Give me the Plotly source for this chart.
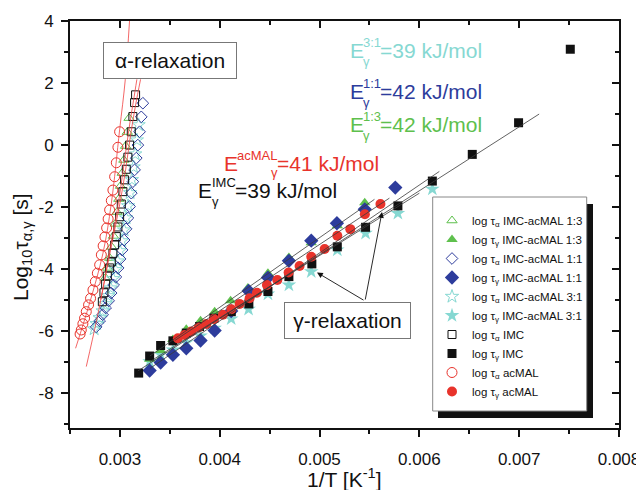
import plotly.graph_objects as go

# ---------------- data ----------------
# alpha relaxation (open symbols)
a13_x = [0.003092, 0.003074, 0.003057, 0.003040, 0.003023, 0.003006, 0.002989, 0.002971, 0.002953, 0.002935, 0.002917, 0.002897, 0.002877, 0.002855]
a13_y = [0.87, 0.42, -0.03, -0.48, -0.90, -1.32, -1.74, -2.16, -2.54, -2.93, -3.28, -3.64, -3.96, -4.28]

a11_x = [0.003230, 0.003214, 0.003197, 0.003180, 0.003164, 0.003147, 0.003130, 0.003114, 0.003097, 0.003080, 0.003062, 0.003042, 0.003022, 0.003002, 0.002982, 0.002960, 0.002937, 0.002912, 0.002887, 0.002857, 0.002827, 0.002797, 0.002762]
a11_y = [1.35, 0.91, 0.43, 0.00, -0.42, -0.80, -1.18, -1.55, -1.98, -2.35, -2.70, -3.06, -3.38, -3.67, -3.96, -4.25, -4.51, -4.77, -5.02, -5.25, -5.47, -5.67, -5.86]

a31_x = [0.003187, 0.003170, 0.003153, 0.003137, 0.003120, 0.003102, 0.003082, 0.003062, 0.003042, 0.003020, 0.003000, 0.002979, 0.002957, 0.002933, 0.002907, 0.002882, 0.002855, 0.002827, 0.002797, 0.002767, 0.002742]
a31_y = [0.65, 0.16, -0.29, -0.71, -1.12, -1.54, -1.96, -2.35, -2.74, -3.09, -3.41, -3.74, -4.02, -4.31, -4.61, -4.86, -5.12, -5.35, -5.57, -5.76, -5.93]

aIMC_x = [0.003157, 0.003147, 0.003130, 0.003114, 0.003097, 0.003080, 0.003064, 0.003047, 0.003030, 0.003014, 0.002997, 0.002980, 0.002964, 0.002947, 0.002930, 0.002914, 0.002897, 0.002874, 0.002857, 0.002840, 0.002824]
aIMC_y = [1.62, 1.37, 0.92, 0.43, 0.00, -0.39, -0.78, -1.12, -1.50, -1.90, -2.31, -2.64, -2.95, -3.22, -3.49, -3.77, -3.96, -4.22, -4.48, -4.76, -5.05]

aMAL_x = [0.002997, 0.002980, 0.002964, 0.002947, 0.002930, 0.002914, 0.002897, 0.002882, 0.002867, 0.002850, 0.002832, 0.002814, 0.002797, 0.002774, 0.002754, 0.002730, 0.002706, 0.002686, 0.002663, 0.002646, 0.002629, 0.002613, 0.002601]
aMAL_y = [0.43, -0.07, -0.57, -1.02, -1.45, -1.79, -2.09, -2.38, -2.67, -2.96, -3.25, -3.54, -3.86, -4.13, -4.40, -4.67, -4.94, -5.15, -5.37, -5.58, -5.76, -5.96, -6.09]

# gamma relaxation (filled symbols)
g13_x = [0.003298, 0.003408, 0.003531, 0.003665, 0.003808, 0.003949, 0.004109, 0.004282, 0.004483, 0.004693, 0.004917, 0.005178, 0.005453]
g13_y = [-6.90, -6.62, -6.27, -5.94, -5.66, -5.37, -5.02, -4.61, -4.13, -3.62, -3.15, -2.60, -1.86]

g11_x = [0.003298, 0.003408, 0.003531, 0.003665, 0.003808, 0.003949, 0.004115, 0.004290, 0.004483, 0.004693, 0.004917, 0.005174, 0.005453, 0.005759]
g11_y = [-7.27, -7.01, -6.76, -6.55, -6.30, -5.98, -5.35, -4.70, -4.27, -3.73, -3.08, -2.52, -2.07, -1.37]

g31_x = [0.003298, 0.003408, 0.003531, 0.003665, 0.003808, 0.003949, 0.004115, 0.004289, 0.004483, 0.004693, 0.004917, 0.005178, 0.005461, 0.005785, 0.006130]
g31_y = [-6.98, -6.75, -6.60, -6.37, -6.15, -5.90, -5.60, -5.29, -4.80, -4.51, -4.08, -3.38, -2.84, -2.20, -1.42]

gIMC_x = [0.003188, 0.003298, 0.003408, 0.003531, 0.003665, 0.003798, 0.003942, 0.004116, 0.004292, 0.004483, 0.004693, 0.004923, 0.005178, 0.005461, 0.005785, 0.006130, 0.006530, 0.006994, 0.007512]
gIMC_y = [-7.35, -6.80, -6.46, -6.31, -6.06, -5.85, -5.58, -5.37, -5.12, -4.72, -4.24, -3.83, -3.28, -2.65, -1.96, -1.16, -0.30, 0.72, 3.09]

gMAL_x = [0.003581, 0.003648, 0.003715, 0.003788, 0.003866, 0.003942, 0.004032, 0.004116, 0.004199, 0.004299, 0.004373, 0.004473, 0.004577, 0.004690, 0.004800, 0.004917, 0.005051, 0.005178, 0.005308, 0.005454, 0.005610]
gMAL_y = [-6.23, -6.12, -6.01, -5.88, -5.77, -5.61, -5.47, -5.29, -5.12, -4.94, -4.76, -4.51, -4.35, -4.11, -3.90, -3.60, -3.35, -2.92, -2.71, -2.23, -1.90]

# fit curves (alpha, VFT) read as polylines
fitA1_x = [0.002556, 0.002696, 0.002830, 0.002914, 0.002997, 0.003054, 0.003097]
fitA1_y = [-6.55, -5.10, -3.49, -1.88, 0.49, 2.12, 4.03]
fitA2_x = [0.002663, 0.002767, 0.002847, 0.002897, 0.002947, 0.002997, 0.003047, 0.003097, 0.003137, 0.003170]
fitA2_y = [-7.14, -5.64, -4.35, -3.38, -2.57, -1.61, -0.48, 0.65, 1.45, 2.12]
fitA3_x = [0.002807, 0.002877, 0.002937, 0.002997, 0.003057, 0.003107, 0.003157, 0.003207]
fitA3_y = [-4.99, -3.86, -2.90, -1.93, -0.80, 0.33, 1.29, 2.12]

# fit lines (gamma, Arrhenius) endpoints
fitG_IMC_x = [0.00318, 0.00720]
fitG_IMC_y = [-7.28, 1.00]
fitG_MAL_x = [0.00355, 0.00570]
fitG_MAL_y = [-6.30, -1.71]
fitG_11_x = [0.00330, 0.00620]
fitG_11_y = [-7.20, -0.85]
fitG_31_x = [0.00330, 0.00600]
fitG_31_y = [-6.98, -1.55]
fitG_13_x = [0.00330, 0.00555]
fitG_13_y = [-6.80, -1.75]

x_ticks = [0.003, 0.004, 0.005, 0.006, 0.007, 0.008]
x_ticktext = ["0.003", "0.004", "0.005", "0.006", "0.007", "0.008"]
x_minor = [0.0025, 0.0035, 0.0045, 0.0055, 0.0065, 0.0075]
y_ticks = [-8, -6, -4, -2, 0, 2, 4]
y_ticktext = ["-8", "-6", "-4", "-2", "0", "2", "4"]
y_minor = [-9, -7, -5, -3, -1, 1, 3]

# ---------------- styling ----------------
FONT = "Liberation Sans, Arimo, Arial, sans-serif"
RED = "#e8332b"
BLUE = "#2d3c9c"
GREEN = "#5ec04d"
CYAN = "#86d8d2"
BLACK = "#111111"
X_RANGE = [0.0025, 0.008]
Y_RANGE = [-9.12, 4]

fig = go.Figure()

def add_pts(x, y, sym, color, size, name, rank, lw=1.0):
    fig.add_trace(go.Scatter(
        x=x, y=y, mode="markers", name=name, legendrank=rank,
        marker=dict(symbol=sym, size=size, color=color,
                    line=dict(color=color, width=lw)),
        hoverinfo="skip"))

# alpha (open)
add_pts(a13_x, a13_y, "triangle-up-open", GREEN, 9, "log τ<sub>α</sub> IMC-acMAL 1:3", 1)
add_pts(a31_x, a31_y, "star-open", CYAN, 10, "log τ<sub>α</sub> IMC-acMAL 3:1", 5)
add_pts(a11_x, a11_y, "diamond-open", BLUE, 9, "log τ<sub>α</sub> IMC-acMAL 1:1", 3)
add_pts(aIMC_x, aIMC_y, "square-open", BLACK, 8, "log τ<sub>α</sub> IMC", 7)
add_pts(aMAL_x, aMAL_y, "circle-open", RED, 10, "log τ<sub>α</sub> acMAL", 9)
# gamma (filled)
add_pts(g31_x, g31_y, "star", CYAN, 11, "log τ<sub>γ</sub> IMC-acMAL 3:1", 6, 0)
add_pts(g13_x, g13_y, "triangle-up", GREEN, 10, "log τ<sub>γ</sub> IMC-acMAL 1:3", 2, 0)
add_pts(g11_x, g11_y, "diamond", BLUE, 11, "log τ<sub>γ</sub> IMC-acMAL 1:1", 4, 0)
add_pts(gIMC_x, gIMC_y, "square", BLACK, 9, "log τ<sub>γ</sub> IMC", 8, 0)
add_pts(gMAL_x, gMAL_y, "circle", RED, 10, "log τ<sub>γ</sub> acMAL", 10, 0)

def add_line(x, y, color, w=0.8):
    fig.add_trace(go.Scatter(x=x, y=y, mode="lines", line=dict(color=color, width=w, shape="spline"),
                             showlegend=False, hoverinfo="skip"))

for fx, fy in [(fitA1_x, fitA1_y), (fitA2_x, fitA2_y), (fitA3_x, fitA3_y)]:
    add_line(fx, fy, "#f04040")
for fx, fy in [(fitG_IMC_x, fitG_IMC_y), (fitG_MAL_x, fitG_MAL_y), (fitG_11_x, fitG_11_y),
               (fitG_31_x, fitG_31_y), (fitG_13_x, fitG_13_y)]:
    add_line(fx, fy, "#3a3a3a")

# dummy trace for the mirrored (top/right) axes
fig.add_trace(go.Scatter(x=[None], y=[None], xaxis="x2", yaxis="y2", showlegend=False, hoverinfo="skip"))

# ---------------- layout geometry ----------------
# the page body has an 8 px margin, so the figure sits at (8, 8) on the page
OFF = 8
W, H = 644 - OFF, 490 - OFF
PL, PT, PW, PH = 70, 21, 549, 407          # plot area in page pixels
ML, MT = PL - OFF, PT - OFF
MR = W - ML - PW
MB = H - MT - PH

def px2x(px):
    return X_RANGE[0] + (px - PL) / PW * (X_RANGE[1] - X_RANGE[0])

def py2y(py):
    return Y_RANGE[1] - (py - PT) / PH * (Y_RANGE[1] - Y_RANGE[0])

def pxp(px):
    return (px - PL) / PW

def pyp(py):
    return (PT + PH - py) / PH

ann = []

def elabel(px, py, sup, rest, color, sup_dx, rest_dx, sub_dx, sub_dy):
    x, y = px2x(px), py2y(py)
    base = dict(xref="x", yref="y", x=x, y=y, showarrow=False, xanchor="left", yanchor="middle")
    ann.append(dict(base, text="E", font=dict(family=FONT, size=21, color=color)))
    ann.append(dict(base, text=sup, xshift=sup_dx, yshift=8, font=dict(family=FONT, size=13, color=color)))
    ann.append(dict(base, text="γ", xshift=sub_dx, yshift=sub_dy, font=dict(family=FONT, size=13, color=color)))
    ann.append(dict(base, text=rest, xshift=rest_dx, font=dict(family=FONT, size=21, color=color)))

elabel(348, 50, "3:1", "=39 kJ/mol", CYAN, 13, 30, 13, -11)
elabel(348, 91, "1:1", "=42 kJ/mol", BLUE, 13, 30, 13, -11)
elabel(348, 124, "1:3", "=42 kJ/mol", GREEN, 13, 30, 13, -11)
elabel(222, 163, "acMAL", "=41 kJ/mol", RED, 13, 53, 47, -9)
elabel(196, 190, "IMC", "=39 kJ/mol", BLACK, 14, 37, 14, -11)

# relaxation boxes
ann.append(dict(xref="x", yref="y", x=px2x(169.7), y=py2y(60.7), text="α-relaxation", showarrow=False,
                font=dict(family=FONT, size=21, color=BLACK), bgcolor="white", bordercolor="#777777",
                borderwidth=1, borderpad=4, width=124, height=27))
ann.append(dict(xref="x", yref="y", x=px2x(347), y=py2y(320.5), text="γ-relaxation", showarrow=False,
                font=dict(family=FONT, size=21, color=BLACK), bgcolor="white", bordercolor="#777777",
                borderwidth=1, borderpad=4, width=117, height=27))

# arrows from gamma box
for hx, hy in [(317, 272.5), (382, 212)]:
    ann.append(dict(xref="x", yref="y", axref="x", ayref="y", x=px2x(hx), y=py2y(hy),
                    ax=px2x(365), ay=py2y(301), text="", showarrow=True, arrowhead=2,
                    arrowsize=1.3, arrowwidth=0.9, arrowcolor=BLACK))

# axis titles
ann.append(dict(xref="paper", yref="paper", x=pxp(22), y=pyp(247), text="Log<sub>10</sub>τ<sub>α,γ</sub> [s]",
                textangle=-90, showarrow=False, xanchor="center", yanchor="middle",
                font=dict(family=FONT, size=21, color=BLACK)))
ann.append(dict(xref="paper", yref="paper", x=0.5, y=pyp(477.5), text="1/T [K<sup>-1</sup>]",
                showarrow=False, xanchor="center", yanchor="middle",
                font=dict(family=FONT, size=21, color=BLACK)))

# legend frame + shadow
shapes = [
    dict(type="rect", xref="paper", yref="paper", x0=pxp(438), x1=pxp(593), y0=pyp(418), y1=pyp(204),
         fillcolor="#111111", line=dict(width=0), layer="above"),
    dict(type="rect", xref="paper", yref="paper", x0=pxp(432.7), x1=pxp(586.7), y0=pyp(411), y1=pyp(197),
         fillcolor="white", line=dict(color="#888888", width=1), layer="above"),
]

axis_common = dict(showline=True, linewidth=2, linecolor=BLACK, showgrid=False, zeroline=False,
                   tickwidth=1.5, tickcolor=BLACK, mirror=False,
                   tickfont=dict(family=FONT, size=17, color=BLACK))

fig.update_layout(
    width=W, height=H, margin=dict(l=ML, r=MR, t=MT, b=MB, autoexpand=False),
    paper_bgcolor="white", plot_bgcolor="white",
    font=dict(family=FONT, color=BLACK),
    showlegend=True,
    legend=dict(x=pxp(432), y=pyp(206), xanchor="left", yanchor="top",
                bgcolor="rgba(0,0,0,0)", borderwidth=0,
                font=dict(family=FONT, size=11.5, color=BLACK), tracegroupgap=0),
    xaxis=dict(axis_common, range=X_RANGE, tickmode="array", tickvals=x_ticks, ticktext=x_ticktext,
               ticks="outside", ticklen=7, ticklabelstandoff=8,
               minor=dict(tickmode="array", tickvals=x_minor, ticks="outside", ticklen=4, tickwidth=1.5, tickcolor=BLACK)),
    yaxis=dict(axis_common, range=Y_RANGE, tickmode="array", tickvals=y_ticks, ticktext=y_ticktext,
               ticks="outside", ticklen=7, ticklabelstandoff=4,
               minor=dict(tickmode="array", tickvals=y_minor, ticks="outside", ticklen=4, tickwidth=1.5, tickcolor=BLACK)),
    xaxis2=dict(axis_common, range=X_RANGE, overlaying="x", side="top", anchor="y2",
                tickmode="array", tickvals=x_ticks, showticklabels=False, ticks="inside", ticklen=7,
                minor=dict(tickmode="array", tickvals=x_minor, ticks="inside", ticklen=4, tickwidth=1.5, tickcolor=BLACK)),
    yaxis2=dict(axis_common, range=Y_RANGE, overlaying="y", side="right", anchor="x2",
                tickmode="array", tickvals=y_ticks, showticklabels=False, ticks="inside", ticklen=7,
                minor=dict(tickmode="array", tickvals=y_minor, ticks="inside", ticklen=4, tickwidth=1.5, tickcolor=BLACK)),
    annotations=ann,
    shapes=shapes,
)

fig.write_html("out.html")
